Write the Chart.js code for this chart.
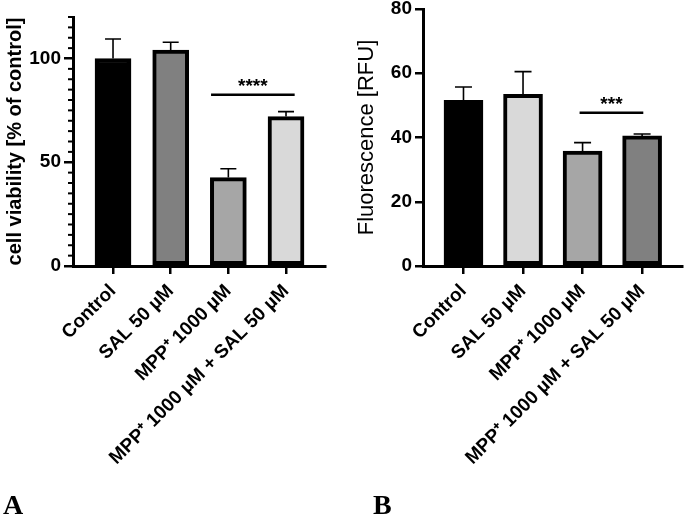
<!DOCTYPE html>
<html lang="en">
<head>
<meta charset="UTF-8">
<title>Cell viability and fluorescence</title>
<script src="https://cdn.jsdelivr.net/npm/chart.js"></script>
<style>
  body { margin: 0; background: #fff; }
  .panel { position: absolute; top: 0; }
  .letter { position: absolute; top: 491px; font: bold 28px "Liberation Serif", serif; line-height: 28px; }
</style>
</head>
<body>
<div class="panel" style="left:0"><canvas id="chartA" width="342" height="517"></canvas></div>
<div class="panel" style="left:342px"><canvas id="chartB" width="343" height="517"></canvas></div>
<div class="letter" style="left:3px">A</div>
<div class="letter" style="left:373px">B</div>

<script>
// groups on the x axis (same for both panels)
const groups = ['Control', 'SAL 50 µM', 'MPP⁺ 1000 µM', 'MPP⁺ 1000 µM + SAL 50 µM'];

// panel A - cell viability [% of control]
const viability = [100, 104.1, 42.6, 72];
const viabilitySem = [9.4, 3.7, 4.3, 2.4];
const viabilityTicks = [0, 50, 100];
const viabilityMinor = [5, 10, 15, 20, 25, 30, 35, 40, 45, 55, 60, 65, 70, 75, 80, 85, 90, 95, 105, 110, 115, 120];
const viabilityColors = ['#000000', '#808080', '#a6a6a6', '#d9d9d9'];
const viabilitySig = { from: 2.7, to: 4.15, at: 82.5, text: '****' };

// panel B - fluorescence [RFU]
const fluorescence = [51.6, 53.4, 35.8, 40.5];
const fluorescenceSem = [4.1, 7.1, 2.6, 0.6];
const fluorescenceTicks = [0, 20, 40, 60, 80];
const fluorescenceColors = ['#000000', '#d9d9d9', '#a6a6a6', '#808080'];
const fluorescenceSig = { from: 2.95, to: 4.02, at: 47.7, text: '***' };

const FONT = '"Liberation Sans", Arial, sans-serif';

// upper error whiskers (mean + SEM)
const errorBars = {
    id: 'errorBars',
    afterDatasetsDraw(chart, args, opts) {
        const { ctx, scales: { x, y } } = chart;
        ctx.save();
        ctx.strokeStyle = '#000';
        ctx.lineWidth = 1.6;
        opts.mean.forEach((m, i) => {
            const px = x.getPixelForValue(i + 1);
            const top = y.getPixelForValue(m);
            const end = y.getPixelForValue(m + opts.sem[i]);
            ctx.beginPath();
            ctx.moveTo(px, top);
            ctx.lineTo(px, end);
            ctx.moveTo(px - opts.cap / 2, end);
            ctx.lineTo(px + opts.cap / 2, end);
            ctx.stroke();
        });
        ctx.restore();
    }
};

// significance bar with asterisks
const sigBar = {
    id: 'sigBar',
    afterDraw(chart, args, opts) {
        const s = opts.sig;
        if (!s) return;
        const { ctx, scales: { x, y } } = chart;
        const x1 = x.getPixelForValue(s.from);
        const x2 = x.getPixelForValue(s.to);
        const py = y.getPixelForValue(s.at);
        ctx.save();
        ctx.strokeStyle = '#000';
        ctx.lineWidth = 2.4;
        ctx.beginPath();
        ctx.moveTo(x1, py);
        ctx.lineTo(x2, py);
        ctx.stroke();
        ctx.fillStyle = '#000';
        ctx.font = 'bold 19px ' + FONT;
        ctx.textAlign = 'center';
        ctx.textBaseline = 'alphabetic';
        ctx.fillText(s.text, (x1 + x2) / 2, py - 3);
        ctx.restore();
    }
};

// short minor ticks on the y axis
const minorTicks = {
    id: 'minorTicks',
    afterDraw(chart, args, opts) {
        if (!opts.values) return;
        const { ctx, scales: { y }, chartArea } = chart;
        ctx.save();
        ctx.strokeStyle = '#000';
        ctx.lineWidth = 2;
        opts.values.forEach(v => {
            const py = y.getPixelForValue(v);
            ctx.beginPath();
            ctx.moveTo(chartArea.left - 5, py);
            ctx.lineTo(chartArea.left, py);
            ctx.stroke();
        });
        ctx.restore();
    }
};

function makePanel(id, o) {
    return new Chart(document.getElementById(id), {
        type: 'bar',
        data: {
            datasets: [{
                data: o.mean.map((v, i) => ({ x: i + 1, y: v })),
                backgroundColor: o.colors,
                borderColor: '#000',
                borderWidth: 4,
                borderSkipped: false,
                barThickness: o.barWidth
            }]
        },
        options: {
            responsive: false,
            animation: false,
            layout: { padding: o.pad },
            plugins: {
                legend: { display: false },
                tooltip: { enabled: false },
                errorBars: { mean: o.mean, sem: o.sem, cap: o.cap },
                sigBar: { sig: o.sig },
                minorTicks: { values: o.minor }
            },
            scales: {
                x: {
                    type: 'linear',
                    min: o.xMin,
                    max: o.xMax,
                    offset: false,
                    afterBuildTicks: s => { s.ticks = groups.map((g, i) => ({ value: i + 1 })); },
                    afterFit: s => { s.height = o.xHeight; s.paddingLeft = 0; s.paddingRight = 0; },
                    ticks: {
                        callback: (v, i) => groups[i],
                        autoSkip: false,
                        maxRotation: 45,
                        minRotation: 45,
                        color: '#000',
                        padding: 6,
                        font: { family: FONT, weight: 'bold', size: 19 }
                    },
                    grid: { drawOnChartArea: false, color: '#000', lineWidth: 2.5, tickLength: 8, offset: false },
                    border: { color: '#000', width: 3 }
                },
                y: {
                    min: 0,
                    max: o.yMax,
                    afterBuildTicks: s => { s.ticks = o.ticks.map(v => ({ value: v })); },
                    afterFit: s => { s.width = o.yWidth; s.paddingTop = 0; s.paddingBottom = 0; },
                    ticks: {
                        color: '#000',
                        padding: 3,
                        font: { family: FONT, weight: 'bold', size: 19 }
                    },
                    grid: { drawOnChartArea: false, color: '#000', lineWidth: 2.5, tickLength: o.tickLen },
                    border: { color: '#000', width: 3 },
                    title: {
                        display: true,
                        text: o.title,
                        color: '#000',
                        font: o.titleFont,
                        padding: { top: o.titlePad, bottom: 0 }
                    }
                }
            }
        },
        plugins: [errorBars, sigBar, minorTicks]
    });
}

makePanel('chartA', {
    mean: viability, sem: viabilitySem, colors: viabilityColors, sig: viabilitySig,
    ticks: viabilityTicks, minor: viabilityMinor, yMax: 120,
    xMin: 0.306, xMax: 4.676, barWidth: 36, cap: 16, tickLen: 9,
    pad: { top: 17, right: 17, left: 0, bottom: 0 }, xHeight: 251, yWidth: 73,
    title: 'cell viability [% of control]',
    titleFont: { family: FONT, weight: 'bold', size: 20 }, titlePad: 3.5
});

makePanel('chartB', {
    mean: fluorescence, sem: fluorescenceSem, colors: fluorescenceColors, sig: fluorescenceSig,
    ticks: fluorescenceTicks, minor: null, yMax: 80,
    xMin: 0.32, xMax: 4.67, barWidth: 39, cap: 17, tickLen: 8,
    pad: { top: 9, right: 3, left: 0, bottom: 0 }, xHeight: 251, yWidth: 81,
    title: 'Fluorescence [RFU]',
    titleFont: { family: FONT, weight: 'normal', size: 22 }, titlePad: 12
});
</script>
</body>
</html>
